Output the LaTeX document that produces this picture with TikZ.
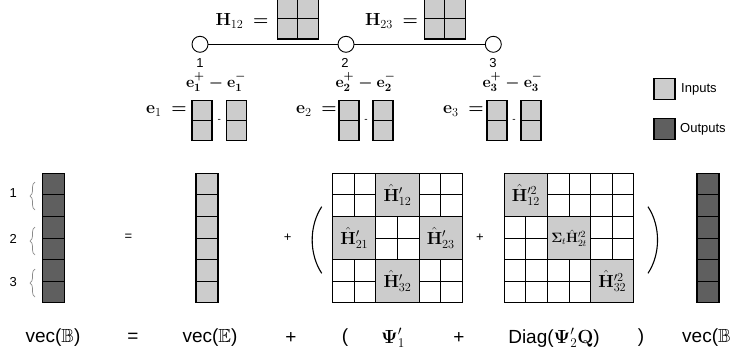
\RequirePackage{fix-cm}
\documentclass[tikz,border=0pt]{standalone}
\usepackage{amsmath,amssymb}
\usepackage[no-math]{fontspec}
\setmainfont{Liberation Sans}
\usetikzlibrary{decorations.pathreplacing}
\definecolor{lgray}{HTML}{CCCCCC}
\definecolor{dgray}{HTML}{5F5F5F}
\definecolor{bracegray}{HTML}{8A8A8A}
\begin{document}
\begin{tikzpicture}[x=1pt,y=-1pt,
  lw/.style={line width=1.1pt},
  mlab/.style={inner sep=0pt,font=\fontsize{17.5}{20}\selectfont},
  elab/.style={inner sep=0pt,font=\fontsize{16}{18}\selectfont},
  small/.style={inner sep=0pt,font=\fontsize{13}{15}\selectfont},
  big/.style={inner sep=0pt,font=\fontsize{19}{22}\selectfont},
  vtx/.style={circle,draw,line width=0.9pt,fill=white,minimum size=16pt,inner sep=0pt},
  blk/.style={draw,line width=1.1pt,fill=lgray,minimum width=43.2pt,minimum height=43.2pt,inner sep=0pt,font=\fontsize{17.5}{20}\selectfont},
  leg/.style={draw,line width=1.1pt,minimum width=21pt,minimum height=21pt,inner sep=0pt}]
\useasboundingbox (0,0) rectangle (730,356);

% ---------- top graph ----------
\node[mlab] (h12l) at (242,21) {$\mathbf{H}_{12}\;\boldsymbol{=}$};
\draw[lw,fill=lgray] (277.3,-2) rectangle (318.3,39);
\draw[lw] (297.8,-2) -- (297.8,39);
\draw[lw] (277.3,18.5) -- (318.3,18.5);
\node[mlab] (h23l) at (391.5,21) {$\mathbf{H}_{23}\;\boldsymbol{=}$};
\draw[lw,fill=lgray] (424.3,-2) rectangle (465.3,39);
\draw[lw] (444.8,-2) -- (444.8,39);
\draw[lw] (424.3,18.5) -- (465.3,18.5);

\node[vtx] (n1) at (200,44.3) {};
\node[vtx] (n2) at (346,44.3) {};
\node[vtx] (n3) at (493.3,44.3) {};
\draw[line width=0.9pt] (n1) -- (n2) -- (n3);
\node[small] (l1) at (200,63) {1};
\node[small] (l2) at (345,63) {2};
\node[small] (l3) at (493,63) {3};

% ---------- e vectors ----------
\foreach \nm/\ex/\xa/\xb/\xl/\xt in {1/166.5/192/226.5/216/219.3, 2/316.5/339/373/365.5/366, 3/463.5/487/521/512.5/514}{
  \node[mlab] (e\nm) at (\ex,111) {$\mathbf{e}_{\nm}\;\boldsymbol{=}$};
  \node[elab] (ed\nm) at (\xl,82) {$\boldsymbol{\mathbf{e}_{\nm}^{+}-\mathbf{e}_{\nm}^{-}}$};
  \draw[lw,fill=lgray] (\xa,100.5) rectangle ++(20,40);
  \draw[lw] (\xa,120.5) -- ++(20,0);
  \draw[lw,fill=lgray] (\xb,100.5) rectangle ++(20,40);
  \draw[lw] (\xb,120.5) -- ++(20,0);
  \node[inner sep=0pt,font=\fontsize{10}{12}\selectfont] (em\nm) at (\xt,121) {-};
}

% ---------- legend ----------
\node[leg,fill=lgray] (legin) at (664.5,88.8) {};
\node[small,anchor=west] (legint) at (681,89.5) {Inputs};
\node[leg,fill=dgray] (legout) at (664.5,128.8) {};
\node[small,anchor=west] (legoutt) at (680,129.5) {Outputs};

% ---------- columns ----------
\foreach \k in {0,...,5}{
  \draw[lw,fill=dgray] (42.5,{173.3+21.6*\k}) rectangle ++(22,21.6);
  \draw[lw,fill=lgray] (196,{173.3+21.6*\k}) rectangle ++(22,21.6);
  \draw[lw,fill=dgray] (697,{173.3+21.6*\k}) rectangle ++(22,21.6);
}
\node[small] (g1) at (13.3,193.3) {1};
\node[small] (g2) at (13.3,239) {2};
\node[small] (g3) at (13.3,281.7) {3};
\draw[bracegray,line width=0.7pt,decorate,decoration={brace,amplitude=5pt}] (35,210) -- (35,182);
\draw[bracegray,line width=0.7pt,decorate,decoration={brace,amplitude=5pt}] (35,255) -- (35,227);
\draw[bracegray,line width=0.7pt,decorate,decoration={brace,amplitude=5pt}] (35,297) -- (35,269);

\node[small] (eqs) at (128.3,237.3) {=};
\node[small] (pl1) at (287.7,237.3) {+};
\node[small] (pl2) at (480,237.3) {+};

% parentheses
\draw[line width=1.1pt] (321.7,206.7) .. controls (309,226) and (309,254) .. (321.7,273.3);
\draw[line width=1.1pt] (648,206.7) .. controls (660.7,226) and (660.7,254) .. (648,273.3);

% ---------- matrices: grids ----------
\foreach \k in {0,...,6}{
  \draw[lw] ({332.7+21.6*\k},173.3) -- ++(0,129.6);
  \draw[lw] (332.7,{173.3+21.6*\k}) -- ++(129.6,0);
  \draw[lw] ({504.3+21.6*\k},173.3) -- ++(0,129.6);
  \draw[lw] (504.3,{173.3+21.6*\k}) -- ++(129.6,0);
}
% matrix 1 blocks
\node[blk] (a12) at (397.5,194.9) {$\hat{\mathbf{H}}'_{12}$};
\node[blk] (a21) at (354.3,238.1) {$\hat{\mathbf{H}}'_{21}$};
\node[blk] (a23) at (440.7,238.1) {$\hat{\mathbf{H}}'_{23}$};
\node[blk] (a32) at (397.5,281.3) {$\hat{\mathbf{H}}'_{32}$};
% matrix 2 blocks
\node[blk] (b12) at (525.9,194.9) {$\hat{\mathbf{H}}^{\prime 2}_{12}$};
\node[blk,font=\fontsize{13.5}{15}\selectfont] (b22) at (569.1,238.1) {$\boldsymbol{\Sigma}_t\hat{\mathbf{H}}^{\prime 2}_{2t}$};
\node[blk] (b32) at (612.3,281.3) {$\hat{\mathbf{H}}^{\prime 2}_{32}$};

% ---------- bottom equation ----------
\node[big] (t1) at (53,338) {vec($\mathbb{B}$)};
\node[big] (t2) at (133,338) {=};
\node[big] (t3) at (210,338) {vec($\mathbb{E}$)};
\node[big] (t4) at (291,338) {+};
\node[big] (t5) at (345,338) {(};
\node[big] (t6) at (393,338) {$\boldsymbol{\Psi}'_1$};
\node[big] (t7) at (459,338) {+};
\node[big] (t8) at (554,338) {Diag($\boldsymbol{\Psi}'_2\mathbf{Q}$)};
\node[big] (t9) at (641,338) {)};
\node[big,anchor=west] (t10) at (682,338) {vec($\mathbb{B}$)};
\end{tikzpicture}
\end{document}
